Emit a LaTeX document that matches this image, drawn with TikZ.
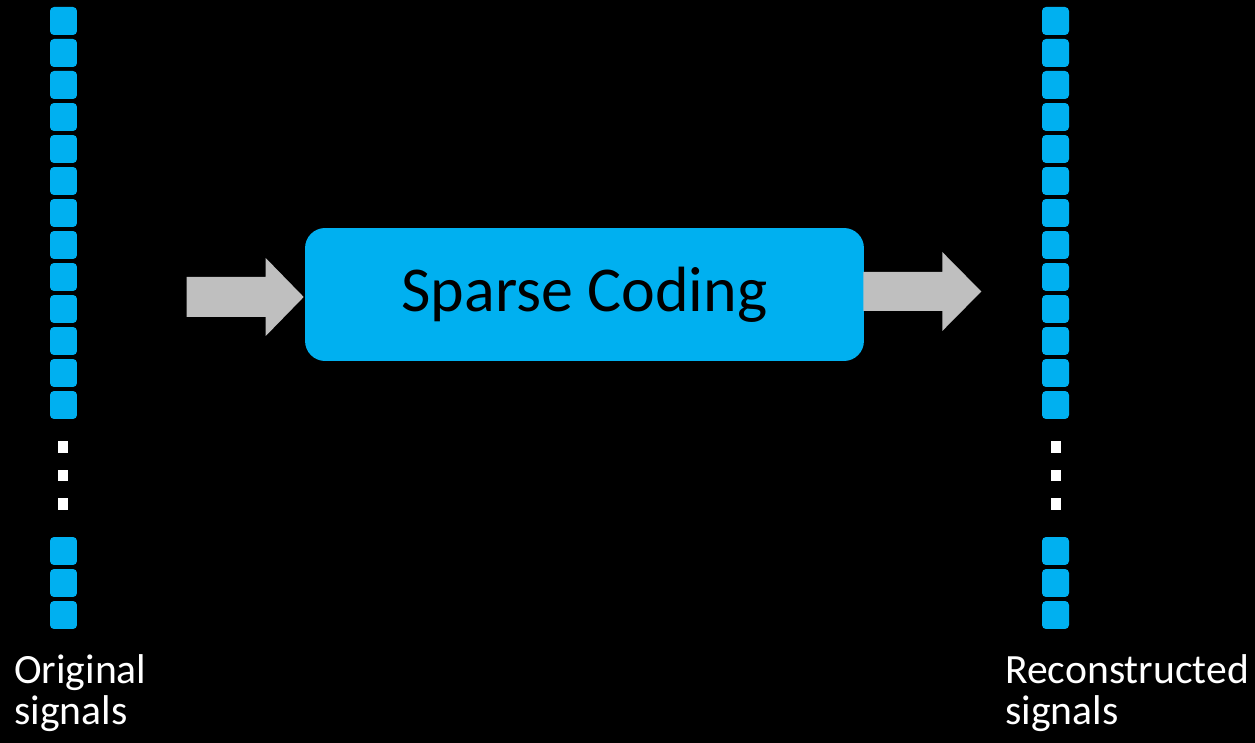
\documentclass[tikz,border=0pt]{standalone}
\usepackage{fontspec}
\setmainfont{Carlito}
\usetikzlibrary{positioning,calc}
\definecolor{sigblue}{HTML}{00B0F0}
\definecolor{arrgray}{HTML}{BFBFBF}
\tikzset{sq/.style={fill=sigblue, rounded corners=2.3pt, minimum width=0.54cm, minimum height=0.56cm, inner sep=0pt},
  dotsq/.style={fill=white, minimum width=0.2cm, minimum height=0.24cm, inner sep=0pt},
  codebox/.style={fill=sigblue, rounded corners=0.4cm, minimum width=11.18cm, minimum height=2.66cm, inner sep=0pt, font=\fontsize{36.4}{40}\selectfont},
  lbl/.style={white, align=left, inner sep=0pt, font=\fontsize{23.7}{23.3}\selectfont}}

\begin{document}
\begin{tikzpicture}[x=0.02cm,y=-0.02cm]
  \fill[black] (0,0) rectangle (1255,743);
  % signal columns
  \foreach \i in {0,...,12} {
    \node[sq] (o\i) at (63.5,21+32*\i) {};
    \node[sq] (r\i) at (1055.5,21+32*\i) {};
  }
  \foreach \i in {0,1,2} {
    \node[dotsq] (od\i) at (63,447+28.5*\i) {};
    \node[dotsq] (rd\i) at (1056,447+28.5*\i) {};
    \node[sq] (ob\i) at (63.5,551+32*\i) {};
    \node[sq] (rb\i) at (1055.5,551+32*\i) {};
  }
  % coder
  \node[codebox] (sc) at (584.5,294.5) {Sparse Coding};
  \coordinate (in) at ($(sc.west)+(-1,2.5)$);
  \coordinate (out) at ($(sc.east)+(0,-3)$);
  \fill[arrgray] (in) -- ++(-38,-39) -- ++(0,19) -- ++(-79,0) -- ++(0,40) -- ++(79,0) -- ++(0,19) -- cycle;
  \fill[arrgray] (out) ++(-1,-19.5) -- ++(79,0) -- ++(0,-20) -- ++(39,39.5) -- ++(-39,39.5) -- ++(0,-20) -- ++(-79,0) -- cycle;
  % labels
  \node[lbl, anchor=base west] (orig) at (14,724) {Original\\signals};
  \node[lbl, anchor=base west] (rec) at (1005,724) {Reconstructed\\signals};
\end{tikzpicture}
\end{document}
